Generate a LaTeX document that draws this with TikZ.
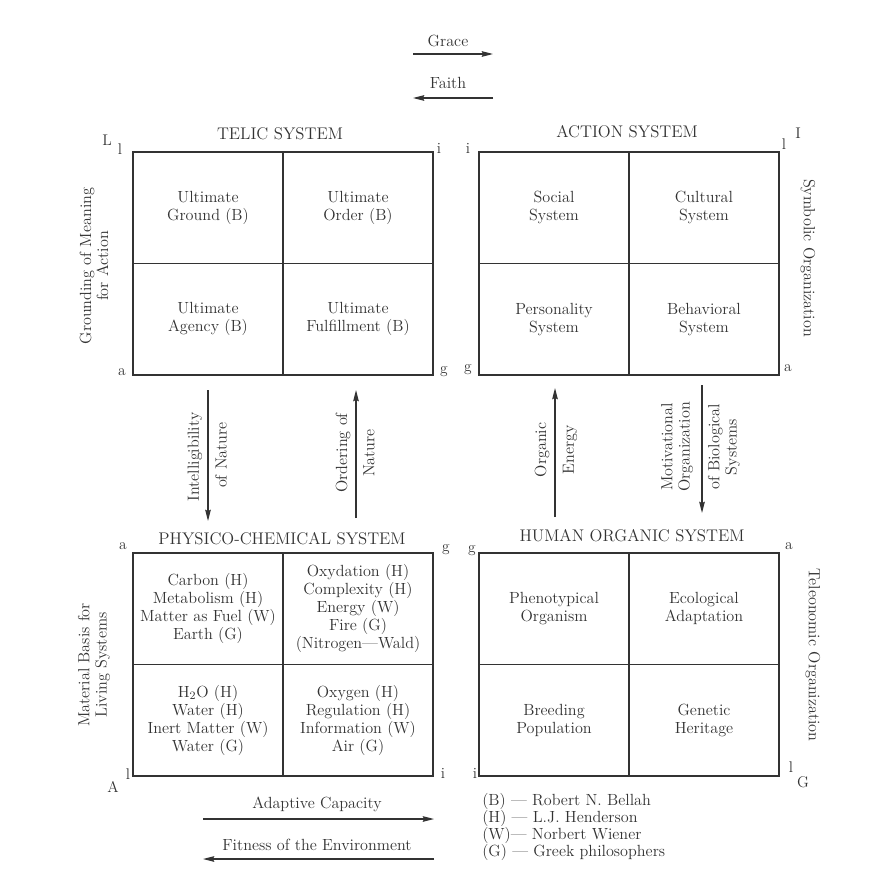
\documentclass[tikz,border=0pt]{standalone}
\usepackage{fontspec}
\usetikzlibrary{arrows.meta,positioning}
\definecolor{inkgray}{HTML}{333333}

\begin{document}
\begin{tikzpicture}[x=0.25mm,y=-0.25mm,
  cell/.style={draw=inkgray,line width=1.1pt,minimum width=37.5mm,
              minimum height=27.875mm,inner sep=1pt,align=center,
              text=inkgray,font=\fontsize{11.5}{12.8}\selectfont},
  ttl/.style={text=inkgray,inner sep=0pt,font=\fontsize{12}{14}\selectfont},
  lbl/.style={text=inkgray,align=center,inner sep=0pt,
              font=\fontsize{11.5}{12.2}\selectfont},
  crn/.style={text=inkgray,inner sep=0pt,font=\fontsize{11}{12}\selectfont},
  flow/.style={inkgray,line width=0.9pt,-{Stealth[length=8pt,width=4pt,inset=1pt]}}
]
\fill[white] (0,0) rectangle (886,886);
\useasboundingbox (0,0) rectangle (886,886);

% ---- Telic system ------------------------------------------
\node[ttl] (telT) at (280,134) {TELIC SYSTEM};
\node[cell] (tgr) at (208,207.75) {Ultimate\\Ground (B)};
\node[cell] (tor) at (358,207.75) {Ultimate\\Order (B)};
\node[cell] (tag) at (208,319.25) {Ultimate\\Agency (B)};
\node[cell] (tfu) at (358,319.25) {Ultimate\\Fulfillment (B)};

% ---- Action system -----------------------------------------
\node[ttl] (actT) at (627,132) {ACTION SYSTEM};
\node[cell] (soc) at (554,207.75) {Social\\System};
\node[cell] (cul) at (704,207.75) {Cultural\\System};
\node[cell] (per) at (554,319.25) {Personality\\System};
\node[cell] (beh) at (704,319.25) {Behavioral\\System};

% ---- Physico-chemical system -------------------------------
\node[ttl] (phyT) at (282,539) {PHYSICO-CHEMICAL SYSTEM};
\node[cell] (car) at (208,608.75)
  {Carbon (H)\\Metabolism (H)\\Matter as Fuel (W)\\Earth (G)};
\node[cell] (oxd) at (358,608.75)
  {Oxydation (H)\\Complexity (H)\\Energy (W)\\Fire (G)\\(Nitrogen---Wald)};
\node[cell] (hyd) at (208,720.25)
  {H\textsubscript{2}O (H)\\Water (H)\\Inert Matter (W)\\Water (G)};
\node[cell] (oxg) at (358,720.25)
  {Oxygen (H)\\Regulation (H)\\Information (W)\\Air (G)};

% ---- Human organic system ----------------------------------
\node[ttl] (humT) at (632,536) {HUMAN ORGANIC SYSTEM};
\node[cell] (phe) at (554,608.75) {Phenotypical\\Organism};
\node[cell] (eco) at (704,608.75) {Ecological\\Adaptation};
\node[cell] (bre) at (554,720.25) {Breeding\\Population};
\node[cell] (gen) at (704,720.25) {Genetic\\Heritage};

% ---- Corner letters ----------------------------------------
\node[crn] (cL1) at (107,140) {L};
\node[crn] (cl1) at (120,149) {l};
\node[crn] (ci1) at (439,148) {i};
\node[crn] (ca1) at (122,372) {a};
\node[crn] (cg1) at (444,372) {g};
\node[crn] (ci2) at (468,148) {i};
\node[crn] (cl2) at (784,144) {l};
\node[crn] (cI2) at (798,133) {I};
\node[crn] (cg2) at (468,370) {g};
\node[crn] (ca2) at (788,368) {a};
\node[crn] (ca3) at (123,546) {a};
\node[crn] (cg3) at (446,550) {g};
\node[crn] (cl3) at (128,774) {l};
\node[crn] (cA3) at (113,787) {A};
\node[crn] (ci3) at (443,773) {i};
\node[crn] (cg4) at (472,551) {g};
\node[crn] (ca4) at (789,546) {a};
\node[crn] (ci4) at (475,773) {i};
\node[crn] (cl4) at (791,767) {l};
\node[crn] (cG4) at (803,782) {G};

% ---- Side labels -------------------------------------------
\node[lbl,rotate=90] (gnd) at (94,266) {Grounding of Meaning\\for Action};
\node[lbl,rotate=-90] (sym) at (808,258) {Symbolic Organization};
\node[lbl,rotate=90] (mat) at (94,665) {Material Basis for\\Living Systems};
\node[lbl,rotate=-90] (tel) at (813,655) {Teleonomic Organization};

% ---- Vertical flows ----------------------------------------
\coordinate (int0) at (208,390);
\coordinate (int1) at (208,521);
\draw[flow] (int0) -- (int1);
\node[lbl,rotate=90] (intA) at (195,457) {Intelligibility};
\node[lbl,rotate=90] (intB) at (221,455) {of Nature};

\coordinate (ord0) at (356,518);
\coordinate (ord1) at (356,390);
\draw[flow] (ord0) -- (ord1);
\node[lbl,rotate=90] (ordA) at (343,453) {Ordering of};
\node[lbl,rotate=90] (ordB) at (369,453) {Nature};

\coordinate (org0) at (555,517);
\coordinate (org1) at (555,388);
\draw[flow] (org0) -- (org1);
\node[lbl,rotate=90] (orgA) at (542,450) {Organic};
\node[lbl,rotate=90] (orgB) at (570,450) {Energy};

\coordinate (mot0) at (702,385);
\coordinate (mot1) at (702,513);
\draw[flow] (mot0) -- (mot1);
\node[lbl,rotate=90] (motA) at (677,447) {Motivational\\Organization};
\node[lbl,rotate=90] (motB) at (724,447) {of Biological\\Systems};

% ---- Horizontal flows --------------------------------------
\coordinate (gra0) at (413,54);
\coordinate (gra1) at (493,54);
\draw[flow] (gra0) -- (gra1);
\node[lbl] (graT) at (448,41) {Grace};

\coordinate (fai0) at (493,98);
\coordinate (fai1) at (413,98);
\draw[flow] (fai0) -- (fai1);
\node[lbl] (faiT) at (448,83) {Faith};

\coordinate (ada0) at (203,819);
\coordinate (ada1) at (434,819);
\draw[flow] (ada0) -- (ada1);
\node[lbl] (adaT) at (317,804) {Adaptive Capacity};

\coordinate (fit0) at (434,859);
\coordinate (fit1) at (203,859);
\draw[flow] (fit0) -- (fit1);
\node[lbl] (fitT) at (317,845) {Fitness of the Environment};

% ---- Legend ------------------------------------------------
\node[lbl,align=left,anchor=west,font=\fontsize{11.5}{11.9}\selectfont]
  (key) at (482,827)
  {(B) --- Robert N. Bellah\\
   (H) --- L.J. Henderson\\
   (W)--- Norbert Wiener\\
   (G) --- Greek philosophers};

\end{tikzpicture}
\end{document}
